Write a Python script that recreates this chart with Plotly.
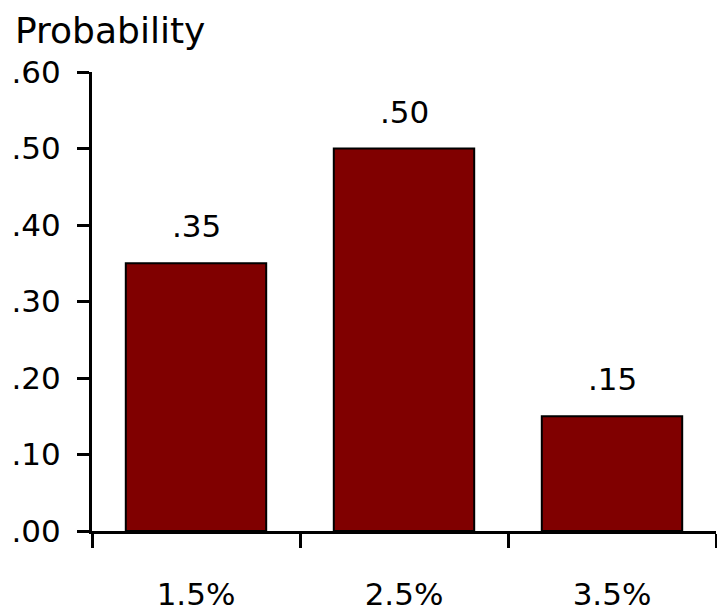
import plotly.graph_objects as go

categories = ["1.5%", "2.5%", "3.5%"]
probabilities = [0.35, 0.50, 0.15]
y_ticks = [0.0, 0.1, 0.2, 0.3, 0.4, 0.5, 0.6]
y_tick_labels = [".00", ".10", ".20", ".30", ".40", ".50", ".60"]
y_title = "Probability"

FONT = "DejaVu Sans"
W, H = 717, 613
L, R, T, B = 92, 1, 72, 78

def fmt(v):
    s = f"{v:.2f}"
    return s[1:] if s.startswith("0") else s

fig = go.Figure()
fig.add_trace(go.Bar(
    x=categories,
    y=probabilities,
    marker=dict(color="#800000", line=dict(color="#000000", width=2)),
    width=0.675,
    hoverinfo="skip",
))

for c, v in zip(categories, probabilities):
    fig.add_annotation(x=c, y=v, text=fmt(v), showarrow=False,
                       yanchor="bottom", yshift=17,
                       font=dict(family=FONT, size=31, color="#000000"))

plot_w = W - L - R
plot_h = H - T - B
fig.add_annotation(xref="paper", yref="paper", x=(13 - L) / plot_w,
                   y=(H - B - 30) / plot_h, xanchor="left", yanchor="middle",
                   text=y_title, showarrow=False,
                   font=dict(family=FONT, size=36, color="#000000"))

fig.update_layout(
    width=W, height=H,
    margin=dict(l=L, r=R, t=T, b=B, pad=0),
    paper_bgcolor="white", plot_bgcolor="white",
    showlegend=False,
    font=dict(family=FONT, size=31, color="#000000"),
    xaxis=dict(
        type="category", tickson="boundaries",
        showline=True, linecolor="black", linewidth=3,
        ticks="outside", ticklen=14, tickwidth=3, tickcolor="black",
        showgrid=False, zeroline=False,
        ticklabelstandoff=34,
        tickfont=dict(family=FONT, size=31),
        range=[-0.5, 2.5],
    ),
    yaxis=dict(
        range=[0, 0.6],
        tickvals=y_ticks, ticktext=y_tick_labels,
        showline=True, linecolor="black", linewidth=3,
        ticks="outside", ticklen=12, tickwidth=3, tickcolor="black",
        showgrid=False, zeroline=False,
        ticklabelstandoff=10,
        tickfont=dict(family=FONT, size=31),
    ),
)

fig.write_html("out.html")
